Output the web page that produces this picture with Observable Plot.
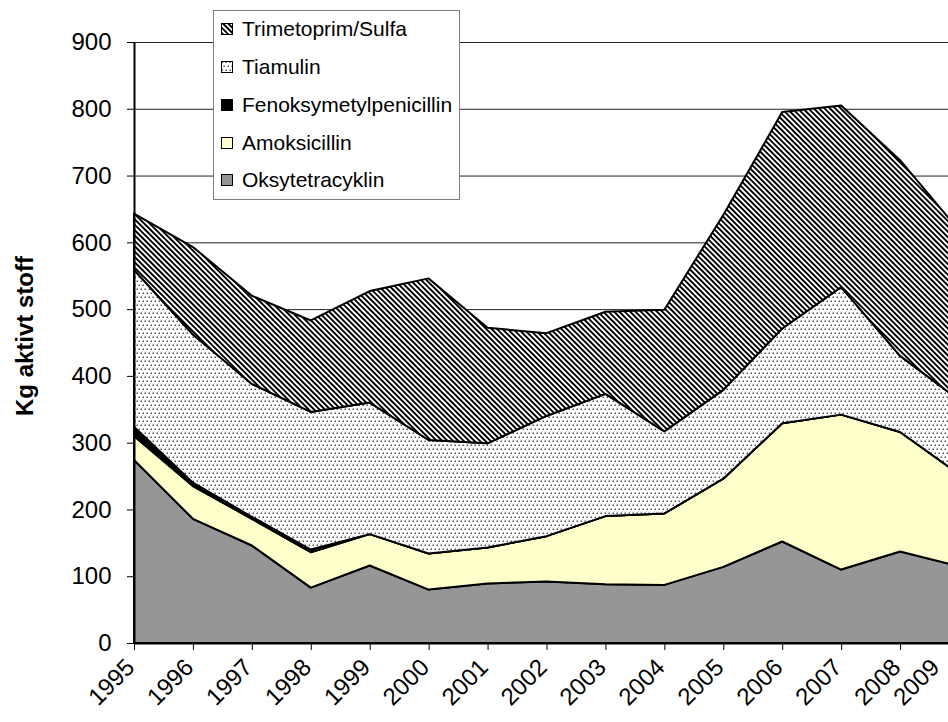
<!DOCTYPE html>
<html><head><meta charset="utf-8">
<script src="https://cdn.jsdelivr.net/npm/d3@7"></script>
<script src="https://cdn.jsdelivr.net/npm/@observablehq/plot@0.6"></script>
<style>
html,body{margin:0;padding:0;background:#fff;overflow:hidden;}
#wrap{position:relative;width:948px;height:722px;font-family:"Liberation Sans",Arial,sans-serif;}
#legend{position:absolute;left:213px;top:10px;width:247px;height:190px;border:1px solid #7f7f7f;background:#fff;box-sizing:border-box;}
.row{position:absolute;left:7px;height:26px;display:flex;align-items:center;font-size:21px;color:#000;white-space:nowrap;}
</style></head>
<body>
<svg width="0" height="0" style="position:absolute">
  <defs>
    <pattern id="hatch" width="3.8" height="3.8" patternUnits="userSpaceOnUse" patternTransform="rotate(-45)">
      <rect width="3.8" height="3.8" fill="#fff"/>
      <rect width="1.9" height="3.8" fill="#000"/>
    </pattern>
    <pattern id="dots" width="4" height="8" patternUnits="userSpaceOnUse">
      <rect width="4" height="8" fill="#fff"/>
      <rect x="0.5" y="0.5" width="1.5" height="1.5" fill="#555"/>
      <rect x="2.5" y="4.5" width="1.5" height="1.5" fill="#555"/>
    </pattern>
  </defs>
</svg>
<div id="wrap"><div id="legend"></div></div>
<script>
const years = [1995,1996,1997,1998,1999,2000,2001,2002,2003,2004,2005,2006,2007,2008,2009];
const series = ["Oksytetracyklin","Amoksicillin","Fenoksymetylpenicillin","Tiamulin","Trimetoprim/Sulfa"];
const oksytetracyklin = [274,186,146,83,116,80,89,92,88,87,114,152,110,137,115];
const amoksicillin    = [36,49,40,53,47,54,54,68,102,107,132,177,232,179,138];
const fenoksymetyl    = [14,5,3,4,0,0,0,0,0,0,0,0,0,0,0];
const tiamulin        = [235,222,199,206,197,170,156,180,183,123,133,142,191,114,111];
const trimetoprim     = [84,131,132,137,167,242,173,124,123,182,262,324,272,293,254];
const yTicks = [0,100,200,300,400,500,600,700,800,900];
const fills = ["#969696","#ffffcc","#000000","url(#dots)","url(#hatch)"];
const yLabel = "Kg aktivt stoff";

const values = [oksytetracyklin, amoksicillin, fenoksymetyl, tiamulin, trimetoprim];
const data = [];
series.forEach((s, i) => years.forEach((yr, j) => data.push({year: yr, series: s, value: values[i][j]})));
const lastYear = years[years.length - 1];

const chart = Plot.plot({
  width: 948, height: 722,
  marginLeft: 134, marginRight: -11, marginTop: 42, marginBottom: 79,
  style: {fontFamily: '"Liberation Sans", Arial, sans-serif', fontSize: "24px", color: "#000", background: "transparent"},
  x: {domain: [1995, 2009], ticks: years, tickFormat: () => "", tickSize: 7, label: null},
  y: {domain: [0, 900], ticks: yTicks, tickFormat: () => "", tickSize: 7, label: null},
  color: {type: "ordinal", domain: series, range: fills},
  marks: [
    Plot.ruleY(yTicks.filter(d => d > 0), {stroke: "#222", strokeWidth: 1}),
    Plot.areaY(data, {x: "year", y: "value", z: "series", fill: "series", stroke: "#000", strokeWidth: 2, strokeLinejoin: "round"}),
    Plot.ruleY([0], {stroke: "#000", strokeWidth: 2}),
    Plot.ruleX([1995], {y1: 0, y2: 900, stroke: "#000", strokeWidth: 2}),
    Plot.text(yTicks, {x: () => 1995, y: d => d, text: d => String(d), textAnchor: "end", dx: -23, fontSize: 24}),
    Plot.text(years.filter(d => d !== lastYear), {x: d => d, y: () => 0, text: d => String(d), rotate: -45, textAnchor: "end", dx: -4, dy: 20, fontSize: 24}),
    Plot.text([lastYear], {x: d => d, y: () => 0, text: d => String(d), rotate: -45, textAnchor: "end", dx: -24, dy: 20, fontSize: 24}),
    Plot.text([yLabel], {text: d => d, frameAnchor: "left", textAnchor: "middle", dx: -109, dy: -7, rotate: -90, fontWeight: "bold", fontSize: 24})
  ]
});
chart.style.position = "absolute";
chart.style.left = "0";
chart.style.top = "0";
const wrap = document.getElementById("wrap");
wrap.insertBefore(chart, wrap.firstChild);

const legend = document.getElementById("legend");
const order = [4,3,2,1,0];
const centers = [18, 56, 94, 132, 169];
order.forEach((si, k) => {
  const row = document.createElement("div");
  row.className = "row";
  row.style.top = (centers[k] - 13) + "px";
  const sw = document.createElementNS("http://www.w3.org/2000/svg", "svg");
  sw.setAttribute("width", 12); sw.setAttribute("height", 12);
  sw.style.marginRight = "9px"; sw.style.flex = "none";
  const r = document.createElementNS("http://www.w3.org/2000/svg", "rect");
  r.setAttribute("x", 0.5); r.setAttribute("y", 0.5); r.setAttribute("width", 11); r.setAttribute("height", 11);
  r.setAttribute("fill", fills[si]); r.setAttribute("stroke", "#000"); r.setAttribute("stroke-width", 1);
  sw.appendChild(r);
  row.appendChild(sw);
  const t = document.createElement("span");
  t.textContent = series[si];
  row.appendChild(t);
  legend.appendChild(row);
});
</script>
</body></html>
